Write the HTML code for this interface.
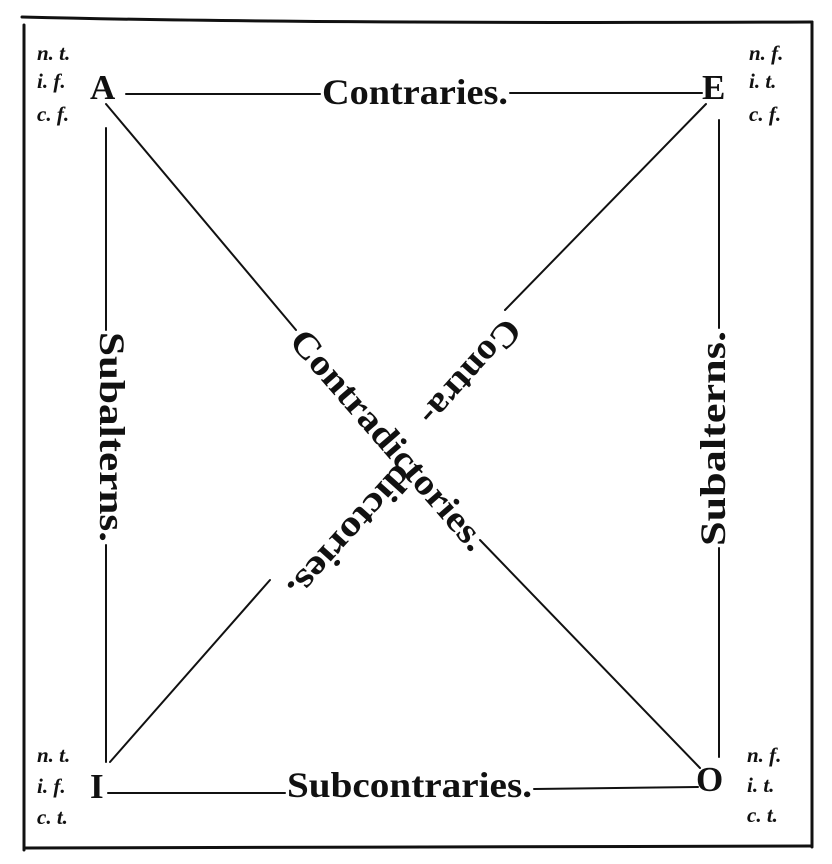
<!DOCTYPE html>
<html><head><meta charset="utf-8"><style>
html,body{margin:0;padding:0;background:#fff;width:832px;height:864px;overflow:hidden}
svg{display:block}
text{font-family:"Liberation Serif",serif;font-weight:bold;fill:#111}
.c{font-style:italic;font-size:21px}
</style></head><body>
<svg width="832" height="864" viewBox="0 0 832 864">
<g stroke="#111" fill="none" stroke-linecap="round">
<path d="M22 17 Q300 24 812 22" stroke-width="3"/>
<line x1="24" y1="25" x2="24" y2="850" stroke-width="3"/>
<line x1="812" y1="22" x2="812" y2="847" stroke-width="3"/>
<line x1="24" y1="848" x2="812" y2="846" stroke-width="3"/>
<line x1="126" y1="94" x2="320" y2="94" stroke-width="2"/>
<line x1="510" y1="93" x2="702" y2="93" stroke-width="2"/>
<line x1="106" y1="128" x2="106" y2="330" stroke-width="2"/>
<line x1="106" y1="545" x2="106" y2="762" stroke-width="2"/>
<line x1="719" y1="120" x2="719" y2="328" stroke-width="2"/>
<line x1="719" y1="548" x2="719" y2="757" stroke-width="2"/>
<line x1="108" y1="793" x2="285" y2="793" stroke-width="2"/>
<line x1="534" y1="789" x2="698" y2="787" stroke-width="2"/>
<line x1="106" y1="104" x2="296" y2="330" stroke-width="2"/>
<line x1="480" y1="540" x2="700" y2="768" stroke-width="2"/>
<line x1="706" y1="104" x2="505" y2="310" stroke-width="2"/>
<line x1="270" y1="580" x2="110" y2="762" stroke-width="2"/>
</g>
<text x="90" y="99" font-size="35">A</text>
<text x="702" y="99" font-size="35">E</text>
<text x="90" y="798" font-size="35">I</text>
<text x="696" y="791" font-size="35">O</text>
<text x="322" y="104" font-size="36" textLength="186" lengthAdjust="spacingAndGlyphs">Contraries.</text>
<text x="287" y="797" font-size="36" textLength="245" lengthAdjust="spacingAndGlyphs">Subcontraries.</text>
<text transform="translate(100,332) rotate(90)" font-size="36" textLength="210" lengthAdjust="spacingAndGlyphs">Subalterns.</text>
<text transform="translate(725,546) rotate(-90)" font-size="36" textLength="215" lengthAdjust="spacingAndGlyphs">Subalterns.</text>
<text transform="translate(288,342) rotate(49)" font-size="36" textLength="280" lengthAdjust="spacingAndGlyphs">Contradictories.</text>
<text transform="translate(506,316) rotate(132)" font-size="36" textLength="132" lengthAdjust="spacingAndGlyphs">Contra-</text>
<text transform="translate(398,462) rotate(132)" font-size="36" textLength="168" lengthAdjust="spacingAndGlyphs">dictories.</text>
<text class="c" x="37" y="60">n. t.</text>
<text class="c" x="37" y="88">i. f.</text>
<text class="c" x="37" y="121">c. f.</text>
<text class="c" x="749" y="60">n. f.</text>
<text class="c" x="749" y="88">i. t.</text>
<text class="c" x="749" y="121">c. f.</text>
<text class="c" x="37" y="762">n. t.</text>
<text class="c" x="37" y="793">i. f.</text>
<text class="c" x="37" y="824">c. t.</text>
<text class="c" x="747" y="762">n. f.</text>
<text class="c" x="747" y="792">i. t.</text>
<text class="c" x="747" y="822">c. t.</text>
</svg>
</body></html>
